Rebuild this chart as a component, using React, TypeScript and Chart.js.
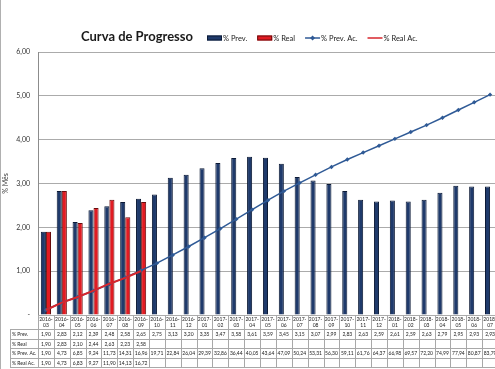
import React, { useEffect, useRef } from 'react';
import { Chart, registerables } from 'chart.js';

Chart.register(...registerables);

const categories = [
  '2016-03', '2016-04', '2016-05', '2016-06', '2016-07', '2016-08', '2016-09', '2016-10', '2016-11', '2016-12',
  '2017-01', '2017-02', '2017-03', '2017-04', '2017-05', '2017-06', '2017-07', '2017-08', '2017-09', '2017-10',
  '2017-11', '2017-12', '2018-01', '2018-02', '2018-03', '2018-04', '2018-05', '2018-06', '2018-07',
];
const prevMes = [1.90, 2.83, 2.12, 2.39, 2.48, 2.58, 2.65, 2.75, 3.13, 3.20, 3.35, 3.47, 3.58, 3.61, 3.59, 3.45, 3.15, 3.07, 2.99, 2.83, 2.63, 2.59, 2.61, 2.59, 2.63, 2.79, 2.95, 2.93, 2.93];
const realMes = [1.90, 2.83, 2.10, 2.44, 2.63, 2.23, 2.58];
const prevAc = [1.90, 4.73, 6.85, 9.24, 11.73, 14.31, 16.96, 19.71, 22.84, 26.04, 29.39, 32.86, 36.44, 40.05, 43.64, 47.09, 50.24, 53.31, 56.30, 59.11, 61.76, 64.37, 66.98, 69.57, 72.20, 74.99, 77.94, 80.87, 83.79];
const realAc = [1.90, 4.73, 6.83, 9.27, 11.90, 14.13, 16.72];
const seriesLabels = ['% Prev.', '% Real', '% Prev. Ac.', '% Real Ac.'];
const titleText = 'Curva de Progresso';
const yAxisTitle = '% Mês';

const BLUE = '#1F3A6B';
const BLUE_BORDER = '#0C1A36';
const RED = '#E11B22';
const RED_BORDER = '#6A0C0C';
const LINE_BLUE = '#2F5A96';
const LINE_RED = '#D7262C';
const FONT = 'Lato, "Open Sans", sans-serif';

const fmt = (v: number | undefined) => (v === undefined ? '' : v.toFixed(2).replace('.', ','));

const overlayPlugin = {
  id: 'overlay',
  afterDraw(chart: any) {
    const ctx = chart.ctx as CanvasRenderingContext2D;
    const area = chart.chartArea;
    const xs = chart.scales.x;
    ctx.save();
    // outer left frame line
    ctx.strokeStyle = '#B0B0B0';
    ctx.lineWidth = 1;
    ctx.beginPath();
    ctx.moveTo(0.5, 0);
    ctx.lineTo(0.5, chart.height);
    ctx.stroke();

    // title
    ctx.fillStyle = '#1a1a1a';
    ctx.font = `bold 13px ${FONT}`;
    ctx.textAlign = 'center';
    ctx.textBaseline = 'middle';
    ctx.fillText(titleText, 137, 37);

    // legend
    ctx.font = `7.5px ${FONT}`;
    ctx.textAlign = 'left';
    let lx = 207;
    const ly = 38;
    seriesLabels.forEach((lab, i) => {
      if (i < 2) {
        ctx.fillStyle = i === 0 ? BLUE : RED;
        ctx.strokeStyle = i === 0 ? BLUE_BORDER : RED_BORDER;
        ctx.fillRect(lx, ly - 2.5, 15, 5);
        ctx.strokeRect(lx + 0.5, ly - 2, 14, 4);
      } else {
        ctx.strokeStyle = i === 2 ? LINE_BLUE : LINE_RED;
        ctx.lineWidth = i === 2 ? 1.5 : 1.5;
        ctx.beginPath();
        ctx.moveTo(lx, ly);
        ctx.lineTo(lx + 15, ly);
        ctx.stroke();
        if (i === 2) {
          ctx.fillStyle = LINE_BLUE;
          ctx.beginPath();
          ctx.moveTo(lx + 7.5, ly - 2.5);
          ctx.lineTo(lx + 10, ly);
          ctx.lineTo(lx + 7.5, ly + 2.5);
          ctx.lineTo(lx + 5, ly);
          ctx.closePath();
          ctx.fill();
        }
      }
      ctx.fillStyle = '#222';
      ctx.fillText(lab, lx + 16, ly + 0.5);
      lx += 16 + ctx.measureText(lab).width + 10;
    });

    // data table
    const n = categories.length;
    const step = xs.getPixelForValue(1) - xs.getPixelForValue(0);
    const left = area.left;
    const top = area.bottom;
    const headerBottom = top + 14;
    const rowH = 9.6;
    const tableBottom = headerBottom + rowH * 4;
    const labelLeft = 10;
    ctx.strokeStyle = '#A8A8A8';
    ctx.lineWidth = 1;
    ctx.beginPath();
    for (let r = 0; r <= 4; r++) {
      const y = Math.round(headerBottom + r * rowH) + 0.5;
      ctx.moveTo(labelLeft, y);
      ctx.lineTo(left + step * n, y);
    }
    ctx.moveTo(labelLeft + 0.5, headerBottom);
    ctx.lineTo(labelLeft + 0.5, tableBottom);
    for (let i = 0; i <= n; i++) {
      const x = Math.round(left + i * step) + 0.5;
      ctx.moveTo(x, top);
      ctx.lineTo(x, tableBottom);
    }
    ctx.stroke();

    ctx.fillStyle = '#222';
    ctx.font = `5px ${FONT}`;
    ctx.textAlign = 'center';
    ctx.textBaseline = 'middle';
    categories.forEach((c, i) => {
      const cx = xs.getPixelForValue(i);
      const [yy, mm] = c.split('-');
      ctx.fillText(yy + '-', cx, top + 4.5);
      ctx.fillText(mm, cx, top + 10);
    });
    const rows: (number[])[] = [prevMes, realMes, prevAc, realAc];
    rows.forEach((arr, r) => {
      const cy = headerBottom + r * rowH + rowH / 2 + 0.5;
      ctx.textAlign = 'left';
      ctx.fillText(seriesLabels[r], labelLeft + 2, cy);
      ctx.textAlign = 'center';
      arr.forEach((v, i) => {
        ctx.fillText(fmt(v), xs.getPixelForValue(i), cy);
      });
    });
    ctx.restore();
  },
};

export default function App() {
  const ref = useRef<HTMLCanvasElement>(null);
  useEffect(() => {
    if (!ref.current) return;
    const chart = new Chart(ref.current, {
      type: 'bar',
      data: {
        labels: categories,
        datasets: [
          {
            type: 'bar', label: seriesLabels[0], data: prevMes, backgroundColor: BLUE, borderColor: BLUE_BORDER,
            borderWidth: 1, yAxisID: 'y', order: 2, categoryPercentage: 0.64, barPercentage: 1,
          },
          {
            type: 'bar', label: seriesLabels[1], data: realMes, backgroundColor: RED, borderColor: RED_BORDER,
            borderWidth: 1, yAxisID: 'y', order: 2, categoryPercentage: 0.64, barPercentage: 1,
          },
          {
            type: 'line', label: seriesLabels[2], data: prevAc, borderColor: LINE_BLUE, backgroundColor: LINE_BLUE,
            borderWidth: 1.5, pointStyle: 'rectRot', pointRadius: 2.2, pointBorderWidth: 0, yAxisID: 'y1', order: 1,
          },
          {
            type: 'line', label: seriesLabels[3], data: realAc, borderColor: LINE_RED, backgroundColor: LINE_RED,
            borderWidth: 2, pointRadius: 0, yAxisID: 'y1', order: 0,
          },
        ] as any,
      },
      options: {
        responsive: false,
        animation: false,
        devicePixelRatio: 1,
        layout: { padding: { top: 52, bottom: 54, left: 0, right: 2 } },
        plugins: { legend: { display: false }, title: { display: false }, tooltip: { enabled: false } },
        scales: {
          x: {
            ticks: { display: false },
            grid: { display: false },
            border: { display: false },
            afterFit: (s: any) => { s.height = 0; },
          },
          y: {
            min: 0, max: 6,
            ticks: {
              stepSize: 1, padding: 8, color: '#333', font: { family: FONT, size: 7 },
              callback: (v: any) => (Number(v) === 0 ? '-' : Number(v).toFixed(2).replace('.', ',')),
            },
            grid: { color: '#ABABAB', drawTicks: false },
            border: { color: '#8C8C8C' },
            title: { display: true, text: yAxisTitle, color: '#333', font: { family: FONT, size: 7 }, padding: { top: 2, bottom: 0 } },
            afterFit: (s: any) => { s.width = 38; },
          },
          y1: { display: false, min: 0, max: 100 },
        },
      },
      plugins: [overlayPlugin],
    });
    return () => chart.destroy();
  }, []);
  return (
    <div style={{ position: 'absolute', left: 0, top: 0, width: 495, height: 369, overflow: 'hidden', background: '#fff' }}>
      <canvas ref={ref} width={502} height={369} style={{ display: 'block', width: 502, height: 369 }} />
    </div>
  );
}
